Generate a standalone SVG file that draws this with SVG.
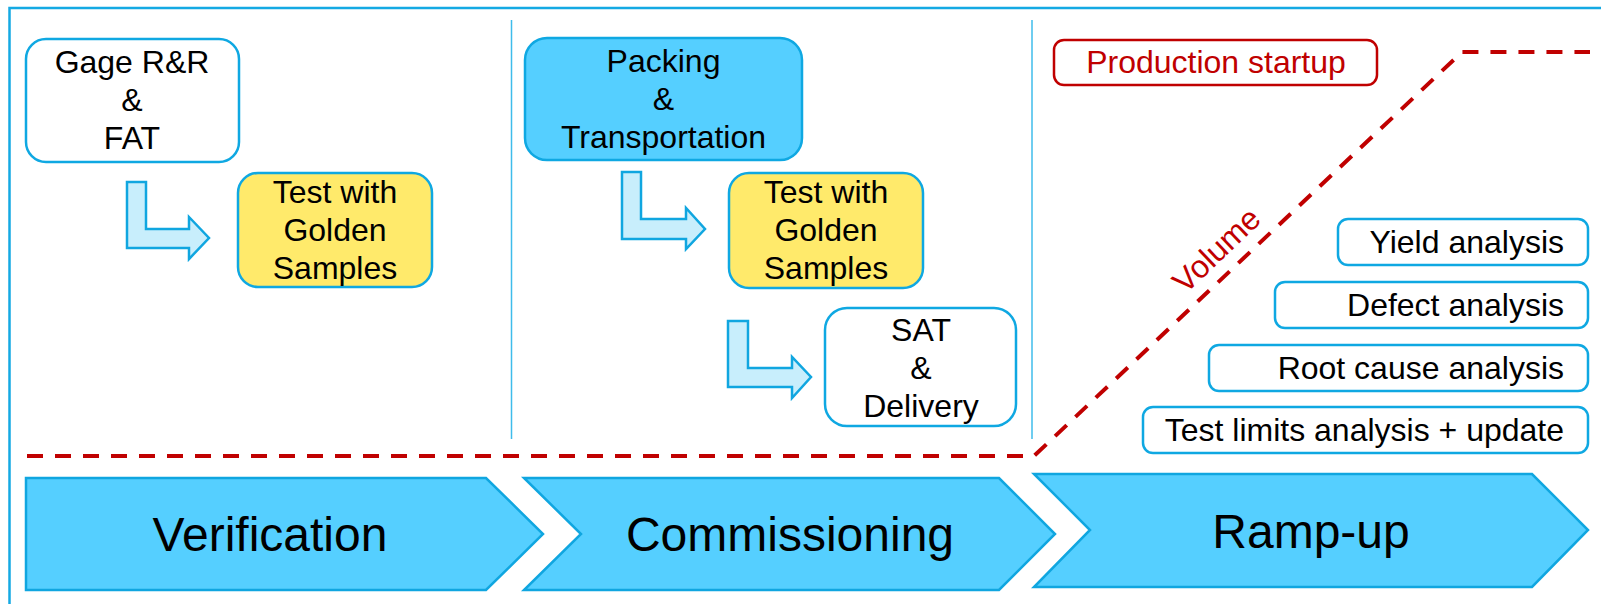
<svg xmlns="http://www.w3.org/2000/svg" width="1601" height="604" viewBox="0 0 1601 604">
<defs>
<style>
.frame{fill:none;stroke:#14A9E3;stroke-width:2.5}
.div{stroke:#3FBCEB;stroke-width:1.5}
.box{fill:#FFFFFF;stroke:#0FA8E2;stroke-width:2.5}
.boxb{fill:#55CFFF;stroke:#0FA8E2;stroke-width:2.5}
.boxy{fill:#FFEA6B;stroke:#0FA8E2;stroke-width:2.5}
.boxr{fill:#FFFFFF;stroke:#C00000;stroke-width:2.5}
.arr{fill:#C8EEFC;stroke:#10A6E0;stroke-width:2.5;stroke-linejoin:miter}
.chev{fill:#55CFFF;stroke:#10A6E0;stroke-width:2.5}
.vol{fill:none;stroke:#C00000;stroke-width:4;stroke-dasharray:16 12}
text{font-family:"Liberation Sans",Arial,sans-serif;fill:#000000}
.t{font-size:32px;text-anchor:middle}
.tr{font-size:32px;text-anchor:end}
.red{fill:#C00000}
.big{font-size:48px;text-anchor:middle}
</style>
</defs>
<rect x="0" y="0" width="1601" height="604" fill="#FFFFFF"/>
<rect class="frame" x="9.5" y="8" width="1620" height="620"/>
<g id="dividers">
<line class="div" x1="511.5" y1="20" x2="511.5" y2="439"/>
<line class="div" x1="1032" y1="20" x2="1032" y2="439"/>
</g>
<g id="connectors">
<path class="arr" d="M127,182 L146,182 L146,229 L189,229 L189,217 L209,238 L189,259 L189,248 L127,248 Z"/>
<path class="arr" d="M622,172 L641,172 L641,219 L686,219 L686,208 L705,229 L686,249 L686,239 L622,239 Z"/>
<path class="arr" d="M728,321 L748,321 L748,368 L792,368 L792,357 L811,377 L792,398 L792,387 L728,387 Z"/>
<path id="volume-line" class="vol" d="M27,456 L1034,456 L1462,52 L1590,52"/>
</g>
<g id="node-gage">
<rect class="box" x="26" y="39" width="213" height="123" rx="20"/>
<text class="t" x="132" y="73">Gage R&amp;R</text>
<text class="t" x="132" y="111">&amp;</text>
<text class="t" x="132" y="149">FAT</text>
</g>
<g id="node-golden1">
<rect class="boxy" x="238" y="173" width="194" height="114" rx="20"/>
<text class="t" x="335" y="203">Test with</text>
<text class="t" x="335" y="241">Golden</text>
<text class="t" x="335" y="279">Samples</text>
</g>
<g id="node-packing">
<rect class="boxb" x="525" y="38" width="277" height="122" rx="22"/>
<text class="t" x="663.5" y="72">Packing</text>
<text class="t" x="663.5" y="110">&amp;</text>
<text class="t" x="663.5" y="148">Transportation</text>
</g>
<g id="node-golden2">
<rect class="boxy" x="729" y="173" width="194" height="115" rx="20"/>
<text class="t" x="826" y="203">Test with</text>
<text class="t" x="826" y="241">Golden</text>
<text class="t" x="826" y="279">Samples</text>
</g>
<g id="node-sat">
<rect class="box" x="825" y="308" width="191" height="118" rx="22"/>
<text class="t" x="921" y="341">SAT</text>
<text class="t" x="921" y="379">&amp;</text>
<text class="t" x="921" y="417">Delivery</text>
</g>
<g id="node-production">
<rect class="boxr" x="1054" y="40" width="323" height="45" rx="10"/>
<text class="t red" x="1216" y="73">Production startup</text>
</g>
<g id="label-volume">
<text class="t red" x="1224" y="258" transform="rotate(-43.5 1224 258)">Volume</text>
</g>
<g id="node-yield">
<rect class="box" x="1338" y="219" width="250" height="46" rx="10"/>
<text class="tr" x="1564" y="253">Yield analysis</text>
</g>
<g id="node-defect">
<rect class="box" x="1275" y="282" width="313" height="46" rx="10"/>
<text class="tr" x="1564" y="316">Defect analysis</text>
</g>
<g id="node-rootcause">
<rect class="box" x="1209" y="345" width="379" height="46" rx="10"/>
<text class="tr" x="1564" y="379">Root cause analysis</text>
</g>
<g id="node-testlimits">
<rect class="box" x="1143" y="407" width="445" height="46" rx="10"/>
<text class="tr" x="1564" y="441">Test limits analysis + update</text>
</g>
<g id="node-verification">
<polygon class="chev" points="26,478 486,478 543,534 486,590 26,590"/>
<text class="big" x="270" y="551">Verification</text>
</g>
<g id="node-commissioning">
<polygon class="chev" points="524,478 999,478 1055,534 999,590 524,590 581,534"/>
<text class="big" x="790" y="551">Commissioning</text>
</g>
<g id="node-rampup">
<polygon class="chev" points="1034,474 1532,474 1588,530 1532,587 1034,587 1090,530"/>
<text class="big" x="1311" y="548">Ramp-up</text>
</g>
</svg>
